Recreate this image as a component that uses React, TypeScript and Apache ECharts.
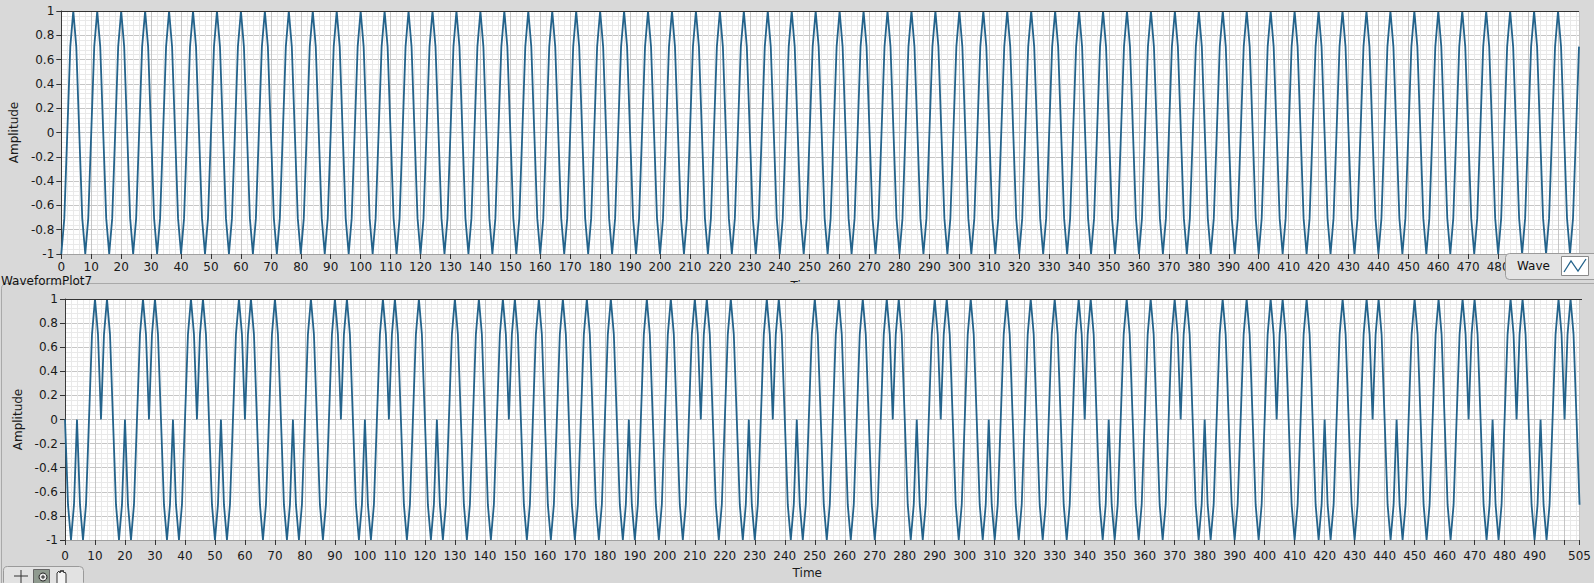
import React, { useEffect, useRef } from "react";
import * as echarts from "echarts";

// ---- Data (sample index = Time) ----
// Upper plot: 508 samples (Time 0 … 507)
const topAmplitude: number[] = [
  -1, -.707, 0, .707, 1, .707, 0, -.707,
  -1, -.707, 0, .707, 1, .707, 0, -.707,
  -1, -.707, 0, .707, 1, .707, 0, -.707,
  -1, -.707, 0, .707, 1, .707, 0, -.707,
  -1, -.707, 0, .707, 1, .707, 0, -.707,
  -1, -.707, 0, .707, 1, .707, 0, -.707,
  -1, -.707, 0, .707, 1, .707, 0, -.707,
  -1, -.707, 0, .707, 1, .707, 0, -.707,
  -1, -.707, 0, .707, 1, .707, 0, -.707,
  -1, -.707, 0, .707, 1, .707, 0, -.707,
  -1, -.707, 0, .707, 1, .707, 0, -.707,
  -1, -.707, 0, .707, 1, .707, 0, -.707,
  -1, -.707, 0, .707, 1, .707, 0, -.707,
  -1, -.707, 0, .707, 1, .707, 0, -.707,
  -1, -.707, 0, .707, 1, .707, 0, -.707,
  -1, -.707, 0, .707, 1, .707, 0, -.707,
  -1, -.707, 0, .707, 1, .707, 0, -.707,
  -1, -.707, 0, .707, 1, .707, 0, -.707,
  -1, -.707, 0, .707, 1, .707, 0, -.707,
  -1, -.707, 0, .707, 1, .707, 0, -.707,
  -1, -.707, 0, .707, 1, .707, 0, -.707,
  -1, -.707, 0, .707, 1, .707, 0, -.707,
  -1, -.707, 0, .707, 1, .707, 0, -.707,
  -1, -.707, 0, .707, 1, .707, 0, -.707,
  -1, -.707, 0, .707, 1, .707, 0, -.707,
  -1, -.707, 0, .707, 1, .707, 0, -.707,
  -1, -.707, 0, .707, 1, .707, 0, -.707,
  -1, -.707, 0, .707, 1, .707, 0, -.707,
  -1, -.707, 0, .707, 1, .707, 0, -.707,
  -1, -.707, 0, .707, 1, .707, 0, -.707,
  -1, -.707, 0, .707, 1, .707, 0, -.707,
  -1, -.707, 0, .707, 1, .707, 0, -.707,
  -1, -.707, 0, .707, 1, .707, 0, -.707,
  -1, -.707, 0, .707, 1, .707, 0, -.707,
  -1, -.707, 0, .707, 1, .707, 0, -.707,
  -1, -.707, 0, .707, 1, .707, 0, -.707,
  -1, -.707, 0, .707, 1, .707, 0, -.707,
  -1, -.707, 0, .707, 1, .707, 0, -.707,
  -1, -.707, 0, .707, 1, .707, 0, -.707,
  -1, -.707, 0, .707, 1, .707, 0, -.707,
  -1, -.707, 0, .707, 1, .707, 0, -.707,
  -1, -.707, 0, .707, 1, .707, 0, -.707,
  -1, -.707, 0, .707, 1, .707, 0, -.707,
  -1, -.707, 0, .707, 1, .707, 0, -.707,
  -1, -.707, 0, .707, 1, .707, 0, -.707,
  -1, -.707, 0, .707, 1, .707, 0, -.707,
  -1, -.707, 0, .707, 1, .707, 0, -.707,
  -1, -.707, 0, .707, 1, .707, 0, -.707,
  -1, -.707, 0, .707, 1, .707, 0, -.707,
  -1, -.707, 0, .707, 1, .707, 0, -.707,
  -1, -.707, 0, .707, 1, .707, 0, -.707,
  -1, -.707, 0, .707, 1, .707, 0, -.707,
  -1, -.707, 0, .707, 1, .707, 0, -.707,
  -1, -.707, 0, .707, 1, .707, 0, -.707,
  -1, -.707, 0, .707, 1, .707, 0, -.707,
  -1, -.707, 0, .707, 1, .707, 0, -.707,
  -1, -.707, 0, .707, 1, .707, 0, -.707,
  -1, -.707, 0, .707, 1, .707, 0, -.707,
  -1, -.707, 0, .707, 1, .707, 0, -.707,
  -1, -.707, 0, .707, 1, .707, 0, -.707,
  -1, -.707, 0, .707, 1, .707, 0, -.707,
  -1, -.707, 0, .707, 1, .707, 0, -.707,
  -1, -.707, 0, .707, 1, .707, 0, -.707,
  -1, -.707, 0, .707,
];

// Lower plot: 506 samples (Time 0 … 505)
const bottomAmplitude: number[] = [
  0, -.707, -1, -.707, 0, -.707, -1, -.707,
  0, .707, 1, .707, 0, .707, 1, .707,
  0, -.707, -1, -.707, 0, -.707, -1, -.707,
  0, .707, 1, .707, 0, .707, 1, .707,
  0, -.707, -1, -.707, 0, -.707, -1, -.707,
  0, .707, 1, .707, 0, .707, 1, .707,
  0, -.707, -1, -.707, 0, -.707, -1, -.707,
  0, .707, 1, .707, 0, .707, 1, .707,
  0, -.707, -1, -.707, 0, .707, 1, .707,
  0, -.707, -1, -.707, 0, -.707, -1, -.707,
  0, .707, 1, .707, 0, -.707, -1, -.707,
  0, .707, 1, .707, 0, .707, 1, .707,
  0, -.707, -1, -.707, 0, -.707, -1, -.707,
  0, .707, 1, .707, 0, .707, 1, .707,
  0, -.707, -1, -.707, 0, .707, 1, .707,
  0, -.707, -1, -.707, 0, -.707, -1, -.707,
  0, .707, 1, .707, 0, -.707, -1, -.707,
  0, .707, 1, .707, 0, -.707, -1, -.707,
  0, .707, 1, .707, 0, .707, 1, .707,
  0, -.707, -1, -.707, 0, .707, 1, .707,
  0, -.707, -1, -.707, 0, .707, 1, .707,
  0, -.707, -1, -.707, 0, .707, 1, .707,
  0, -.707, -1, -.707, 0, .707, 1, .707,
  0, -.707, -1, -.707, 0, -.707, -1, -.707,
  0, .707, 1, .707, 0, -.707, -1, -.707,
  0, .707, 1, .707, 0, -.707, -1, -.707,
  0, .707, 1, .707, 0, .707, 1, .707,
  0, -.707, -1, -.707, 0, .707, 1, .707,
  0, -.707, -1, -.707, 0, -.707, -1, -.707,
  0, .707, 1, .707, 0, .707, 1, .707,
  0, -.707, -1, -.707, 0, -.707, -1, -.707,
  0, .707, 1, .707, 0, -.707, -1, -.707,
  0, .707, 1, .707, 0, -.707, -1, -.707,
  0, .707, 1, .707, 0, -.707, -1, -.707,
  0, .707, 1, .707, 0, .707, 1, .707,
  0, -.707, -1, -.707, 0, -.707, -1, -.707,
  0, .707, 1, .707, 0, .707, 1, .707,
  0, -.707, -1, -.707, 0, .707, 1, .707,
  0, -.707, -1, -.707, 0, -.707, -1, -.707,
  0, .707, 1, .707, 0, -.707, -1, -.707,
  0, .707, 1, .707, 0, -.707, -1, -.707,
  0, .707, 1, .707, 0, -.707, -1, -.707,
  0, .707, 1, .707, 0, .707, 1, .707,
  0, -.707, -1, -.707, 0, -.707, -1, -.707,
  0, .707, 1, .707, 0, -.707, -1, -.707,
  0, .707, 1, .707, 0, -.707, -1, -.707,
  0, .707, 1, .707, 0, .707, 1, .707,
  0, -.707, -1, -.707, 0, -.707, -1, -.707,
  0, .707, 1, .707, 0, -.707, -1, -.707,
  0, .707, 1, .707, 0, -.707, -1, -.707,
  0, .707, 1, .707, 0, .707, 1, .707,
  0, -.707, -1, -.707, 0, .707, 1, .707,
  0, -.707, -1, -.707, 0, -.707, -1, -.707,
  0, .707, 1, .707, 0, -.707, -1, -.707,
  0, .707, 1, .707, 0, .707, 1, .707,
  0, -.707, -1, -.707, 0, -.707, -1, -.707,
  0, .707, 1, .707, 0, -.707, -1, -.707,
  0, .707, 1, .707, 0, -.707, -1, -.707,
  0, .707, 1, .707, 0, .707, 1, .707,
  0, -.707, -1, -.707, 0, -.707, -1, -.707,
  0, .707, 1, .707, 0, .707, 1, .707,
  0, -.707, -1, -.707, 0, -.707, -1, -.707,
  0, .707, 1, .707, 0, .707, 1, .707,
  0, -.707,
];

const topTimeRange = [0, 507];
const bottomTimeRange = [0, 505];
const timeStep = 10;
const amplitudeRange = [-1, 1];
const amplitudeStep = 0.2;
const topLastLabel = 480; // labels beyond this sit under the legend
const bottomHiddenLabel = 500; // LabVIEW shows 505 instead of 500

const legendName = "Wave";
const plotName = "WaveformPlot7";
const xName = "Time";
const yName = "Amplitude";

// ---- styling ----
const FONT = '"DejaVu Sans", Verdana, sans-serif';
const LINE_COLOR = "#24638b";
const BG = "#d9d9d9";
const MAJOR = "#c6c6c6";
const MINOR = "#e9e9e9";
const TEXT = "#1a1a1a";

const TOP = { left: 61, top: 11, width: 1518, height: 243 };
const BOT = { left: 65, top: 299, width: 1517, height: 241 };

function toPairs(arr: number[]) {
  return arr.map((v, i) => [i, v]);
}

function makeX(gridIndex: number, range: number[], fmt: (v: number) => string, z: number, nameGap: number, labelMargin: number) {
  return {
    type: "value",
    gridIndex,
    min: range[0],
    max: range[1],
    interval: timeStep,
    z,
    name: xName,
    nameLocation: "middle",
    nameGap,
    nameTextStyle: { color: TEXT, fontSize: 12, fontFamily: FONT, padding: [0, 30, 0, 0] },
    axisLine: { show: true, onZero: false, lineStyle: { color: "#a0a0a0", width: 1 } },
    axisTick: { show: true, inside: false, length: 5, lineStyle: { color: "#333" } },
    axisLabel: {
      color: TEXT,
      fontSize: 12,
      fontFamily: FONT,
      lineHeight: 9,
      margin: labelMargin,
      formatter: fmt,
      showMinLabel: true,
      showMaxLabel: true,
    },
    splitLine: { show: true, lineStyle: { color: MAJOR, width: 1 } },
    minorTick: { show: false, splitNumber: 5 },
    minorSplitLine: { show: true, lineStyle: { color: MINOR, width: 1 } },
  };
}

function makeY(gridIndex: number, z: number, nameGap: number) {
  return {
    type: "value",
    gridIndex,
    min: amplitudeRange[0],
    max: amplitudeRange[1],
    interval: amplitudeStep,
    z,
    name: yName,
    nameLocation: "middle",
    nameGap,
    nameTextStyle: { color: TEXT, fontSize: 12, fontFamily: FONT },
    axisLine: { show: true, onZero: false, lineStyle: { color: "#3a3a3a", width: 1 } },
    axisTick: { show: true, inside: false, length: 5, lineStyle: { color: "#333" } },
    axisLabel: {
      color: TEXT,
      fontSize: 12,
      fontFamily: FONT,
      margin: 7,
      formatter: (v: number) => String(Math.round(v * 10) / 10),
    },
    splitLine: { show: true, lineStyle: { color: MAJOR, width: 1 } },
    minorTick: { show: false, splitNumber: 5 },
    minorSplitLine: { show: true, lineStyle: { color: MINOR, width: 1 } },
  };
}

export default function App() {
  const ref = useRef<HTMLDivElement>(null);

  useEffect(() => {
    if (!ref.current) return;
    const chart = echarts.init(ref.current, undefined, { renderer: "svg" });

    const option: any = {
      animation: false,
      backgroundColor: BG,
      grid: [
        { ...TOP, show: true, backgroundColor: "#ffffff", borderWidth: 0, z: 0 },
        { ...BOT, show: true, backgroundColor: "#ffffff", borderWidth: 0, z: 4 },
      ],
      xAxis: [
        makeX(0, topTimeRange, (v: number) => (v > topLastLabel ? "" : String(v)), 1, 26, 8),
        makeX(1, bottomTimeRange, (v: number) => (v === bottomHiddenLabel ? "" : String(v)), 5, 27, 11),
      ],
      yAxis: [makeY(0, 1, 34), makeY(1, 5, 35)],
      series: [
        {
          name: legendName,
          type: "line",
          xAxisIndex: 0,
          yAxisIndex: 0,
          data: toPairs(topAmplitude),
          showSymbol: false,
          symbol: "none",
          lineStyle: { color: LINE_COLOR, width: 1.8 },
          z: 2,
        },
        {
          name: legendName,
          type: "line",
          xAxisIndex: 1,
          yAxisIndex: 1,
          data: toPairs(bottomAmplitude),
          showSymbol: false,
          symbol: "none",
          lineStyle: { color: LINE_COLOR, width: 1.8 },
          z: 6,
        },
      ],
      graphic: [
        // lower panel frame
        {
          type: "rect",
          z: 3,
          shape: { x: 1.5, y: 283.5, width: 1600, height: 310, r: 5 },
          style: { fill: "#d7d7d7", stroke: "#a9a9a9", lineWidth: 1 },
        },
        // plot top borders
        {
          type: "line",
          z: 3,
          shape: { x1: TOP.left, y1: TOP.top + 0.5, x2: TOP.left + TOP.width, y2: TOP.top + 0.5 },
          style: { stroke: "#333", lineWidth: 1 },
        },
        {
          type: "line",
          z: 7,
          shape: { x1: BOT.left, y1: BOT.top + 0.5, x2: BOT.left + BOT.width, y2: BOT.top + 0.5 },
          style: { stroke: "#333", lineWidth: 1 },
        },
        // plot label
        {
          type: "text",
          z: 8,
          x: 1,
          y: 281,
          style: {
            text: plotName,
            fill: "#111",
            font: `12px ${FONT}`,
            lineHeight: 8,
            verticalAlign: "middle",
            align: "left",
          },
        },
        // legend
        {
          type: "group",
          z: 10,
          children: [
            {
              type: "rect",
              z: 10,
              shape: { x: 1505.5, y: 253.5, width: 95, height: 26, r: 4 },
              style: { fill: "#e3e3e3", stroke: "#9b9b9b", lineWidth: 1 },
            },
            {
              type: "text",
              z: 11,
              x: 1517,
              y: 266,
              style: { text: legendName, fill: "#111", font: `12px ${FONT}`, verticalAlign: "middle", align: "left" },
            },
            {
              type: "rect",
              z: 11,
              shape: { x: 1561.5, y: 256.5, width: 27, height: 19 },
              style: { fill: "#ffffff", stroke: "#8a8a8a", lineWidth: 1 },
            },
            {
              type: "polyline",
              z: 12,
              shape: { points: [[1564, 272], [1571, 261], [1578, 271], [1586, 259]] },
              style: { stroke: LINE_COLOR, lineWidth: 1.3, fill: "none" },
            },
          ],
        },
        // graph palette (bottom-left)
        {
          type: "group",
          z: 10,
          children: [
            {
              type: "rect",
              z: 10,
              shape: { x: 3.5, y: 566.5, width: 80, height: 20, r: 4 },
              style: { fill: "#e2e2e2", stroke: "#9a9a9a", lineWidth: 1 },
            },
            { type: "line", z: 11, shape: { x1: 14, y1: 576, x2: 28, y2: 576 }, style: { stroke: "#333", lineWidth: 1 } },
            { type: "line", z: 11, shape: { x1: 21, y1: 570, x2: 21, y2: 583 }, style: { stroke: "#333", lineWidth: 1 } },
            {
              type: "rect",
              z: 11,
              shape: { x: 33.5, y: 569.5, width: 16, height: 14 },
              style: { fill: "#8f9a8f", stroke: "#666", lineWidth: 1 },
            },
            { type: "circle", z: 12, shape: { cx: 43, cy: 577, r: 4 }, style: { fill: "#e8e8e8", stroke: "#222", lineWidth: 1 } },
            { type: "line", z: 13, shape: { x1: 41, y1: 577, x2: 45, y2: 577 }, style: { stroke: "#222", lineWidth: 1 } },
            { type: "line", z: 13, shape: { x1: 43, y1: 575, x2: 43, y2: 579 }, style: { stroke: "#222", lineWidth: 1 } },
            {
              type: "polyline",
              z: 11,
              shape: { points: [[57, 583], [57, 573], [59, 571], [60, 573], [61, 570], [62, 572], [63, 570], [64, 573], [65, 572], [66, 574], [66, 583]] },
              style: { stroke: "#333", lineWidth: 1, fill: "#f4f4f4" },
            },
          ],
        },
      ],
    };

    chart.setOption(option);
    return () => chart.dispose();
  }, []);

  return (
    <div
      ref={ref}
      style={{ position: "fixed", left: 0, top: 0, width: 1594, height: 583 }}
    />
  );
}
